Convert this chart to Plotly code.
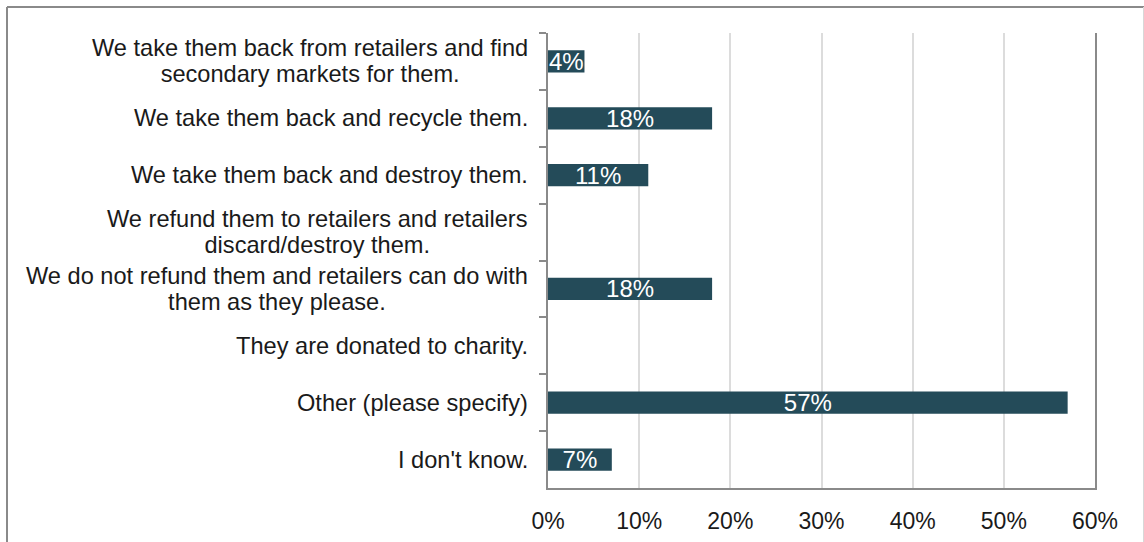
import plotly.graph_objects as go

# Survey responses: what happens to unsold / returned products
categories = [
    "We take them back from retailers and find<br>secondary markets for them.",
    "We take them back and recycle them.",
    "We take them back and destroy them.",
    "We refund them to retailers and retailers<br>discard/destroy them.",
    "We do not refund them and retailers can do with<br>them as they please.",
    "They are donated to charity.",
    "Other (please specify)",
    "I don't know.",
]
shares = [4, 18, 11, None, 18, None, 57, 7]  # percent of respondents

x_ticks = [0, 10, 20, 30, 40, 50, 60]
x_tick_labels = ["0%", "10%", "20%", "30%", "40%", "50%", "60%"]

BAR = "#244B59"
AXIS = "#8A8A8A"
GRID = "#DCDCDC"
FONT = "Liberation Sans, Arial, sans-serif"

fig = go.Figure()

fig.add_trace(go.Bar(
    y=categories,
    x=shares,
    orientation="h",
    marker=dict(color=BAR, line=dict(width=0)),
    texttemplate="%{x:.0f}%",
    textposition="inside",
    insidetextanchor="middle",
    constraintext="none",
    textfont=dict(color="white", size=24, family=FONT),
    hoverinfo="skip",
))


def tight_lines(label, size=23.6):
    # larger glyphs inside a smaller base font keep the line spacing compact
    return "<br>".join(
        f"<span style='font-size:{size}px'>{line}</span>" for line in label.split("<br>")
    )


# Category labels as centred multi-line text to the left of the axis
for cat in categories:
    fig.add_annotation(
        x=0, xref="paper", y=cat, yref="y",
        text=tight_lines(cat), showarrow=False,
        xanchor="right", yanchor="middle", align="center",
        xshift=-18, yshift=0,
        font=dict(size=20, family=FONT, color="#1A1A1A"),
    )

# Outer frame around the whole chart
W, H = 1144, 542
ml, mr, mt, mb = 548, 49, 33, 54
pw, ph = W - ml - mr, H - mt - mb


def px_x(p):
    return (p - ml) / pw


def px_y(p):
    return (H - mb - p) / ph


fig.add_shape(type="line", xref="paper", yref="paper",
              x0=px_x(7), x1=px_x(1146), y0=px_y(7), y1=px_y(7),
              line=dict(color=AXIS, width=2))
fig.add_shape(type="line", xref="paper", yref="paper",
              x0=px_x(7), x1=px_x(7), y0=px_y(7), y1=px_y(560),
              line=dict(color=AXIS, width=2))
fig.add_shape(type="line", xref="paper", yref="paper",
              x0=px_x(1143.5), x1=px_x(1143.5), y0=px_y(7), y1=px_y(560),
              line=dict(color="#D8D8D8", width=1))

fig.update_layout(
    width=W, height=H,
    margin=dict(l=ml, r=mr, t=mt, b=mb, autoexpand=False),
    paper_bgcolor="white", plot_bgcolor="white",
    showlegend=False,
    bargap=0.61,
    font=dict(family=FONT, color="#1A1A1A"),
    xaxis=dict(
        range=[0, 60], tickmode="array", tickvals=x_ticks, ticktext=x_tick_labels,
        showgrid=True, gridcolor=GRID, gridwidth=1.5,
        showline=True, linecolor=AXIS, linewidth=2,
        ticks="", zeroline=False, automargin=False,
        tickfont=dict(size=23, family=FONT, color="#1A1A1A"),
        ticklabelstandoff=11,
    ),
    xaxis2=dict(
        overlaying="x", side="top", range=[0, 60], tickvals=x_ticks,
        showticklabels=False, showgrid=False, zeroline=False,
        showline=True, linecolor=AXIS, linewidth=2, automargin=False,
        ticks="outside", ticklen=8, tickwidth=2, tickcolor=AXIS,
    ),
    yaxis=dict(
        autorange="reversed", type="category",
        showticklabels=False, showgrid=False, zeroline=False,
        showline=True, linecolor=AXIS, linewidth=2, mirror=True,
        ticks="outside", tickson="boundaries", ticklen=7, tickwidth=2,
        tickcolor=AXIS, automargin=False,
    ),
)

fig.write_html("out.html")
